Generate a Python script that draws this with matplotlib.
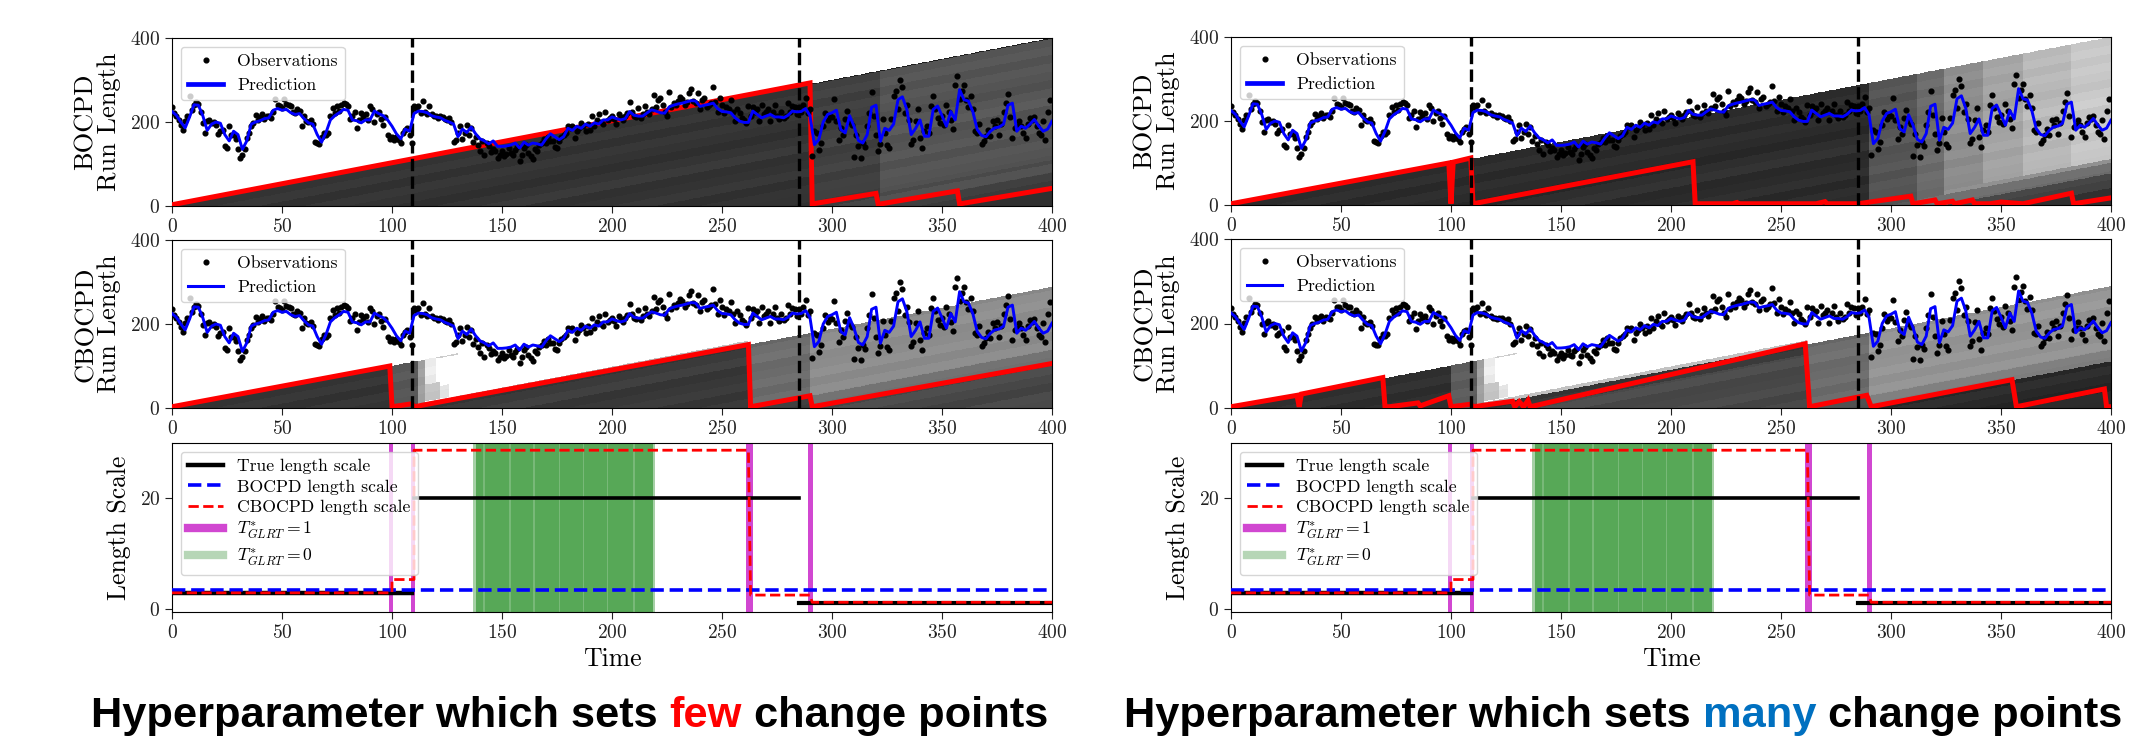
import matplotlib
matplotlib.use("Agg")
import matplotlib.pyplot as plt
import numpy as np

plt.rcParams["font.family"] = ["cmr10", "DejaVu Serif"]
plt.rcParams["mathtext.fontset"] = "cm"
plt.rcParams["axes.formatter.use_mathtext"] = True
plt.rcParams["axes.unicode_minus"] = False

W, H = 2153, 740

# observations, one per time step
obs = [
    236, 222, 215, 205, 192, 180, 202, 215, 261, 228, 240, 247, 243, 225, 198, 174, 202, 205, 197, 200,
    192, 172, 178, 182, 144, 138, 191, 168, 170, 160, 136, 114, 122, 135, 162, 174, 190, 198, 216, 205,
    212, 218, 206, 215, 214, 210, 225, 255, 240, 238, 233, 255, 243, 240, 239, 225, 222, 231, 226, 190,
    215, 202, 200, 204, 195, 152, 150, 148, 165, 174, 170, 174, 214, 233, 222, 237, 226, 240, 245, 244,
    238, 206, 215, 225, 186, 205, 222, 212, 218, 205, 239, 232, 200, 218, 225, 206, 194, 213, 170, 160,
    165, 158, 165, 158, 150, 175, 182, 185, 168, 150,
    237, 232, 239, 222, 249, 225, 220, 237, 218, 214,
    214, 210, 214, 212, 208, 205, 210, 200, 152, 156,
    175, 190, 160, 175, 194, 170, 186, 152, 165, 146,
    130, 155, 122, 150, 142, 128, 135, 130, 114, 122,
    130, 118, 125, 138, 126, 122, 134, 140, 106, 122,
    138, 145, 126, 118, 112, 135, 130, 145, 150, 160,
    150, 165, 155, 154, 140, 138, 155, 165, 170, 175,
    190, 185, 190, 162, 178, 185, 198, 190, 178, 195,
    182, 214, 190, 205, 218, 200, 195, 225, 205, 210,
    215, 208, 196, 218, 212, 205, 215, 222, 247, 225,
    215, 212, 233, 210, 220, 237, 225, 218, 230, 265,
    235, 253, 257, 240, 225, 215, 271, 235, 245, 240,
    250, 260, 255, 240, 248, 269, 279, 250, 245, 269,
    232, 253, 257, 235, 240, 245, 283, 248, 225, 257,
    240, 222, 235, 230, 252, 225, 202, 230, 222, 210,
    205, 198, 239, 215, 236, 225, 230, 202, 241, 220,
    225, 231, 202, 225, 241, 215, 206, 225, 210, 215,
    245, 225, 238, 236, 220, 236, 225, 240, 257, 222,
    232, 120, 178, 174, 134, 150, 190, 222, 205, 215,
    213, 255, 203, 158, 185, 170, 208, 227, 200, 192,
    116, 170, 144, 114, 150, 140, 190, 221, 271, 215,
    170, 130, 148, 206, 175, 146, 138, 208, 261, 273,
    232, 301, 283, 221, 240, 205, 147, 158, 203, 232,
    163, 138, 178, 190, 174, 237, 261, 230, 210, 198,
    215, 192, 241, 225, 205, 184, 287, 309, 255, 275,
    289, 253, 235, 263, 232, 178, 174, 195, 147, 155,
    166, 180, 166, 202, 190, 205, 170, 195, 225, 245,
    267, 213, 163, 185, 190, 203, 190, 175, 162, 195,
    209, 205, 213, 190, 174, 170, 202, 158, 225, 253,
]

# prediction, every second time step
pred = [
    225, 216, 200, 186, 212, 241, 240, 215, 180, 195, 200, 197, 170, 155, 178, 170, 135, 155, 195, 200,
    203, 208, 210, 228, 232, 228, 230, 222, 218, 220, 208, 198, 195, 170, 152, 175, 205, 215, 222, 230,
    228, 205, 203, 198, 205, 205, 226, 220, 215, 205, 190, 172, 160, 183, 178,
    220, 226, 225, 222, 215, 212, 210, 204, 200, 195, 165, 183, 175, 188, 172, 160, 155, 148, 155, 142,
    142, 143, 145, 150, 138, 152, 145, 150, 148, 145, 160, 172, 165, 158, 165, 185, 180, 190, 185, 195,
    190, 198, 195, 205, 205, 212, 208, 205, 208, 225, 216, 214, 214, 222, 229, 226, 222, 221, 236, 240,
    243, 245, 248, 251, 250, 237, 240, 242, 245, 232, 225, 224, 222, 210, 202, 199, 199, 226, 218, 210,
    214, 218, 212, 212, 210, 216, 226, 224, 225, 232, 215, 146, 158, 200, 218, 222, 228, 182, 174, 215,
    190, 156, 150, 170, 235, 240, 154, 185, 180, 195, 253, 260, 230, 170, 185, 205, 166, 166, 230, 238,
    215, 190, 225, 205, 277, 253, 250, 225, 182, 168, 165, 178, 186, 188, 195, 240, 245, 178, 190, 185,
    195, 206, 190, 178, 183, 202,
]

change_points = [109, 285]

# most probable run length, left and right column
rl_few_bo_t = [0, 290, 291, 320, 321, 357, 358, 400]
rl_few_bo_r = [3, 293, 5, 30, 4, 36, 5, 42]
rl_few_cb_t = [0, 99, 100, 109, 110, 262, 263, 290, 291, 400]
rl_few_cb_r = [3, 100, 3, 10, 3, 151, 3, 29, 3, 106]
rl_many_bo_t = [0, 99, 100, 101, 109, 110, 210, 211, 228, 230, 231, 266, 270, 271, 285, 309, 310, 318, 320, 321,
                328, 329, 337, 338, 345, 350, 360, 382, 383, 400]
rl_many_bo_r = [3, 100, 3, 102, 112, 3, 103, 3, 3, 6, 3, 3, 8, 3, 3, 21, 3, 10, 12, 3,
                9, 3, 12, 3, 3, 7, 3, 28, 3, 17]
rl_many_cb_t = [0, 30, 31, 32, 69, 70, 72, 85, 86, 99, 100, 109, 110, 128, 129, 131, 133, 135, 136, 261, 263,
                289, 291, 355, 357, 397, 398, 400]
rl_many_cb_r = [3, 30, 3, 33, 72, 3, 3, 12, 5, 29, 3, 9, 3, 16, 3, 15, 3, 18, 3, 152, 3,
                30, 3, 67, 3, 45, 3, 3]

# heat cells: first time, last time, first change point, last change point, grey
heat_few_bo = [(0, 291, 0, 400, 0.20), (291, 322, 0, 400, 0.25), (322, 400, 0, 291, 0.33),
               (322, 400, 291, 321, 0.30), (322, 400, 321, 357, 0.25), (322, 400, 357, 400, 0.18),
               (291, 400, 0, 2, 0.12)]
heat_few_cb = [(0, 100, 0, 400, 0.20), (100, 112, 0, 400, 0.34), (112, 115, 0, 400, 0.62),
               (115, 120, 0, 60, 0.92), (115, 122, 60, 100, 0.76), (120, 130, 0, 3, 0.80),
               (122, 126, 70, 100, 0.88), (110, 262, 102, 110, 0.78),
               (110, 262, 110, 400, 0.22), (262, 290, 112, 262, 0.42), (290, 400, 112, 262, 0.55),
               (262, 290, 262, 400, 0.25), (290, 400, 262, 290, 0.45), (290, 400, 290, 400, 0.28)]
heat_many_bo = [(0, 290, 0, 400, 0.17), (290, 312, 0, 400, 0.33), (312, 324, 0, 400, 0.42),
                (324, 342, 0, 291, 0.55), (342, 360, 0, 291, 0.64), (360, 382, 0, 291, 0.72),
                (382, 400, 0, 291, 0.78), (324, 400, 291, 300, 0.58), (324, 400, 300, 325, 0.42),
                (324, 400, 325, 360, 0.28), (324, 400, 360, 400, 0.18)]
heat_many_cb = [(0, 100, 0, 400, 0.18), (100, 112, 0, 400, 0.36), (112, 115, 0, 400, 0.62),
                (115, 120, 0, 60, 0.92), (115, 122, 60, 100, 0.76), (120, 130, 0, 3, 0.80),
                (122, 126, 70, 100, 0.88), (110, 262, 102, 110, 0.78),
                (110, 262, 110, 400, 0.22), (137, 262, 135, 400, 0.28), (262, 290, 112, 262, 0.42),
                (290, 400, 112, 262, 0.58), (262, 290, 262, 400, 0.32), (290, 400, 262, 290, 0.50),
                (290, 400, 290, 400, 0.16)]
stripe = [0.0, 0.02, -0.01, 0.015, 0.0, -0.02, 0.01, 0.03, -0.01, 0.0, 0.02, -0.015, 0.01, 0.0, -0.01, 0.025,
          0.0, -0.02, 0.015, 0.01, 0.0]

# length scale panel
true_t = [[0, 109], [110, 285], [285, 400]]
true_ls = [[2.9, 2.9], [20, 20], [1.0, 1.0]]
bo_ls_t = [0, 400]
bo_ls = [3.4, 3.4]
cb_ls_t = [0, 100, 100, 110, 110, 262, 263, 290, 291, 400]
cb_ls = [2.9, 2.9, 5.3, 5.3, 28.6, 28.6, 2.5, 2.5, 1.2, 1.2]
glrt_one = [(98.5, 100.5), (108.5, 110.5), (261, 264), (289, 291.5)]
glrt_zero = (138, 218.5)
glrt_zero_edges = [(137, 138), (218.5, 219.5)]
glrt_zero_gaps = [141.8, 153.6, 164.5, 176, 187, 198, 210]

caption_parts = [
    ("Hyperparameter which sets ", "black"), ("few", "#ff0000"), (" change points", "black"),
]
caption_parts_right = [
    ("Hyperparameter which sets ", "black"), ("many", "#0070c0"), (" change points", "black"),
]

fig = plt.figure(figsize=(W / 100, H / 100), dpi=100)


def px_axes(x0, x1, y0, y1):
    return fig.add_axes([x0 / W, 1 - y1 / H, (x1 - x0) / W, (y1 - y0) / H])


def heat_grid(cells):
    grid = np.full((400, 400), np.nan)
    for t0, t1, c0, c1, level in cells:
        for t in range(t0, t1):
            for c in range(c0, min(c1, t + 1)):
                grid[t - c, t] = level + stripe[c // 20]
    return grid


def run_panel(ax, cells, rl_t, rl_r, ylab, leg_lw):
    ax.imshow(heat_grid(cells), origin="lower", extent=(0, 400, 0, 400), cmap="gray", vmin=0, vmax=1,
              aspect="auto", interpolation="nearest")
    ax.plot(rl_t, rl_r, color="#ff0000", lw=3.6, solid_joinstyle="miter", zorder=3)
    for cp in change_points:
        ax.axvline(cp, color="black", ls="--", lw=2.4, zorder=4)
    ax.plot(np.arange(len(obs)), obs, "o", color="black", ms=3.4, label="Observations", zorder=5)
    ax.plot(np.arange(len(pred)) * 2, pred, color="#0000ff", lw=2.1, label="Prediction", zorder=6)
    ax.set_xlim(0, 400)
    ax.set_ylim(0, 400)
    ax.set_xticks(np.arange(0, 401, 50))
    ax.set_yticks([0, 200, 400])
    ax.set_ylabel(ylab, fontsize=19, linespacing=1.0, labelpad=6)
    leg = ax.legend(loc="upper left", fontsize=12.7, framealpha=0.8, borderaxespad=0.5)
    leg.set_zorder(10)
    leg.get_lines()[1].set_linewidth(leg_lw)
    ax.tick_params(labelsize=14, length=5, colors="#222222")


def scale_panel(ax):
    ax.axvspan(glrt_zero[0], glrt_zero[1], color="#4ea34e", alpha=0.95, lw=0, zorder=1)
    for a, b in glrt_zero_edges:
        ax.axvspan(a, b, color="#4ea34e", alpha=0.5, lw=0, zorder=1)
    for g in glrt_zero_gaps:
        ax.axvspan(g - 0.3, g + 0.3, color="white", alpha=0.2, lw=0, zorder=1)
    for a, b in glrt_one:
        ax.axvspan(a, b, color="#cc33cc", alpha=0.9, lw=0, zorder=2)
    ax.plot(true_t[0], true_ls[0], color="black", lw=3.2, label="True length scale", zorder=3)
    ax.plot(true_t[1], true_ls[1], color="black", lw=2.6, zorder=3)
    ax.plot(true_t[2], true_ls[2], color="black", lw=3.0, zorder=3)
    ax.plot(bo_ls_t, bo_ls, color="#0000ff", ls="--", lw=2.6, label="BOCPD length scale", zorder=4)
    ax.plot(cb_ls_t, cb_ls, color="#ff0000", ls="--", lw=2.0, label="CBOCPD length scale", zorder=5)
    ax.plot([], [], color="#cc33cc", lw=6, alpha=0.9, label=r"$T^{*}_{GLRT}=1$")
    ax.plot([], [], color="#2e8b2e", lw=6, alpha=0.35, label=r"$T^{*}_{GLRT}=0$")
    ax.set_xlim(0, 400)
    ax.set_ylim(-0.55, 29.9)
    ax.set_xticks(np.arange(0, 401, 50))
    ax.set_yticks([0, 20])
    ax.set_xlabel("Time", fontsize=18.5, labelpad=4)
    ax.set_ylabel("Length Scale", fontsize=18.5, labelpad=6)
    leg = ax.legend(loc="upper left", fontsize=12.7, framealpha=0.8, borderaxespad=0.5, labelspacing=0.28)
    leg.set_zorder(10)
    ax.tick_params(labelsize=14, length=5, colors="#222222")


def text_width(s):
    renderer = fig.canvas.get_renderer()
    probe = fig.text(0, 0, s + "x", fontsize=31.2, fontweight="bold", family="Liberation Sans")
    end = fig.text(0, 0, "x", fontsize=31.2, fontweight="bold", family="Liberation Sans")
    w = probe.get_window_extent(renderer).width - end.get_window_extent(renderer).width
    probe.remove()
    end.remove()
    return w


def caption(parts, x0, y):
    prefix = ""
    for txt, col in parts:
        x = x0 + text_width(prefix) if prefix else x0
        fig.text(x / W, 1 - y / H, txt, color=col, fontsize=31.2, fontweight="bold",
                 family="Liberation Sans", ha="left", va="center")
        prefix += txt


ax = px_axes(172, 1052, 38, 206)
run_panel(ax, heat_few_bo, rl_few_bo_t, rl_few_bo_r, "BOCPD\nRun Length", 3.4)
ax = px_axes(172, 1052, 240, 408)
run_panel(ax, heat_few_cb, rl_few_cb_t, rl_few_cb_r, "CBOCPD\nRun Length", 2.2)
ax = px_axes(172, 1052, 443, 612)
scale_panel(ax)

ax = px_axes(1231, 2111, 37, 205)
run_panel(ax, heat_many_bo, rl_many_bo_t, rl_many_bo_r, "BOCPD\nRun Length", 3.4)
ax = px_axes(1231, 2111, 239, 408)
run_panel(ax, heat_many_cb, rl_many_cb_t, rl_many_cb_r, "CBOCPD\nRun Length", 2.2)
ax = px_axes(1231, 2111, 443, 612)
scale_panel(ax)

caption(caption_parts, 91, 716)
caption(caption_parts_right, 1124, 716)

fig.savefig("out.png", dpi=100)
